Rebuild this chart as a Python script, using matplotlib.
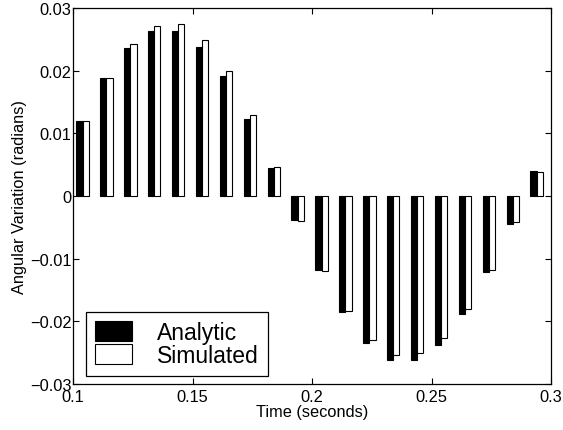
import matplotlib
matplotlib.use("Agg")
import matplotlib.pyplot as plt
from matplotlib.patches import Patch
import numpy as np

plt.rcParams['font.family'] = ['Liberation Sans', 'DejaVu Sans']

time = [0.104, 0.114, 0.124, 0.134, 0.144, 0.154, 0.164, 0.174, 0.184, 0.194,
        0.204, 0.214, 0.224, 0.234, 0.244, 0.254, 0.264, 0.274, 0.284, 0.294]
analytic = [0.0120, 0.0188, 0.0236, 0.0263, 0.0264, 0.0238, 0.0191, 0.0123, 0.0045, -0.0039,
            -0.0118, -0.0185, -0.0234, -0.0261, -0.0262, -0.0237, -0.0189, -0.0122, -0.0044, 0.0040]
simulated = [0.0119, 0.0188, 0.0242, 0.0272, 0.0275, 0.0249, 0.0200, 0.0129, 0.0046, -0.0040,
             -0.0120, -0.0183, -0.0230, -0.0253, -0.0251, -0.0227, -0.0181, -0.0118, -0.0042, 0.0039]
xticks = [0.1, 0.15, 0.2, 0.25, 0.3]
xticklabels = ['0.1', '0.15', '0.2', '0.25', '0.3']
yticks = [-0.03, -0.02, -0.01, 0, 0.01, 0.02, 0.03]
yticklabels = ['\u22120.03', '\u22120.02', '\u22120.01', '0', '0.01', '0.02', '0.03']

fig = plt.figure(figsize=(5.63, 4.31), dpi=100)
ax = fig.add_axes([73/563, 1-385/431, 478/563, 376/431])

w = 0.0026
t = np.array(time)
ax.bar(t - w/2, analytic, width=w, color='black', edgecolor='black', linewidth=0.8)
ax.bar(t + w/2, simulated, width=w, color='white', edgecolor='black', linewidth=0.8)

ax.set_xlim(0.1, 0.3)
ax.set_ylim(-0.03, 0.03)
ax.set_xticks(xticks)
ax.set_xticklabels(xticklabels, fontsize=11.8)
ax.set_yticks(yticks)
ax.set_yticklabels(yticklabels, fontsize=11.8)
ax.tick_params(direction='in', top=True, right=True, length=4, width=0.8)
ax.tick_params(axis='x', pad=3.5)
ax.tick_params(axis='y', pad=1)
for s in ax.spines.values():
    s.set_linewidth(0.9)

ax.set_xlabel('Time (seconds)', fontsize=11.8, labelpad=0)
ax.set_ylabel('Angular Variation (radians)', fontsize=11.8, labelpad=2)

handles = [Patch(facecolor='black', edgecolor='black', linewidth=0.8),
           Patch(facecolor='white', edgecolor='black', linewidth=0.8)]
leg = ax.legend(handles, ['Analytic', 'Simulated'], loc='lower left',
                bbox_to_anchor=(0.027, 0.021), borderaxespad=0, fontsize=16.5,
                handlelength=1.62, handleheight=1.0, labelspacing=0,
                handletextpad=1.09, borderpad=0.4, fancybox=False,
                edgecolor='black', framealpha=1)
leg.get_frame().set_linewidth(0.9)

fig.savefig('out.png', dpi=100)
